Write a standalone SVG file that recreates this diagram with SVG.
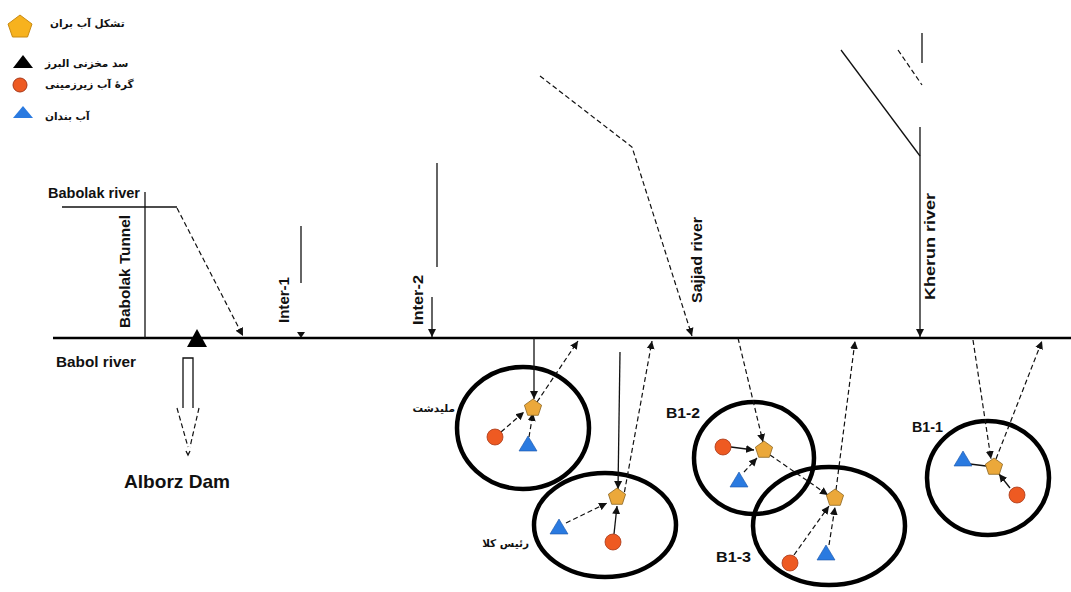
<svg xmlns="http://www.w3.org/2000/svg" xmlns:xlink="http://www.w3.org/1999/xlink" width="1071" height="592" viewBox="0 0 1071 592">
<style>
.lbl{font-family:"Liberation Sans",Arial,sans-serif;font-weight:bold;font-size:14px;fill:#111}
.fa{font-family:"DejaVu Sans","Noto Sans",sans-serif;font-weight:bold;font-size:10.5px;fill:#111}
.ln{fill:none;stroke:#111;stroke-width:1.3}
.dl{fill:none;stroke:#111;stroke-width:1.2;stroke-dasharray:5,3}
.zone{fill:none;stroke:#000;stroke-width:4.5}
.pent{fill:#EBA83A;stroke:#8B6420;stroke-width:0.8}
.gw{fill:#EE5A22;stroke:#A83818;stroke-width:0.8}
.pond{fill:#2A7AE0;stroke:#1B55A8;stroke-width:0.6}
</style>
<defs>
<marker id="ah" markerUnits="userSpaceOnUse" markerWidth="9" markerHeight="9" refX="8" refY="4.5" orient="auto"><path d="M0,0.5 L8,4.5 L0,8.5 z" fill="#111"/></marker>
<path id="pg" d="M0,-9 L8.6,-2.8 L5.3,7.3 L-5.3,7.3 L-8.6,-2.8 z"/>
<path id="tri" d="M0,-8 L9,7 L-9,7 z"/>
</defs>
<rect width="1071" height="592" fill="#fff"/>

<g id="legend">
  <g id="legend-wua"><path d="M20,15 L32,24 L27.5,37 L12.5,37 L8,24 z" fill="#F7B21E" stroke="#C98A12" stroke-width="1"/><text class="fa" x="50" y="27">تشکل آب بران</text></g>
  <g id="legend-dam"><path d="M23,55 L33,68 L13,68 z" fill="#000"/><text class="fa" x="45" y="67">سد مخزنی البرز</text></g>
  <g id="legend-gw"><circle cx="20" cy="85" r="7" fill="#EE5A22" stroke="#A83818" stroke-width="1"/><text class="fa" x="45" y="88">گرۀ آب زیرزمینی</text></g>
  <g id="legend-pond"><path d="M23,106 L33,118 L13,118 z" fill="#2A7AE0"/><text class="fa" x="45" y="120">آب بندان</text></g>
</g>

<g id="zones">
  <g id="zone-malidasht"><ellipse class="zone" cx="523" cy="428" rx="66" ry="61"/><text class="fa" x="455" y="412" text-anchor="end">ملیدشت</text></g>
  <g id="zone-raeeskola"><ellipse class="zone" cx="605" cy="525" rx="71" ry="52"/><text class="fa" x="529" y="547" text-anchor="end">رئیس کلا</text></g>
  <g id="zone-b12"><ellipse class="zone" cx="754" cy="458" rx="60" ry="56"/><text class="lbl" x="666" y="418" textLength="34" lengthAdjust="spacingAndGlyphs">B1-2</text></g>
  <g id="zone-b13"><ellipse class="zone" cx="829" cy="526" rx="76" ry="59"/><text class="lbl" x="716" y="562" textLength="35" lengthAdjust="spacingAndGlyphs">B1-3</text></g>
  <g id="zone-b11"><ellipse class="zone" cx="988" cy="478" rx="61" ry="57"/><text class="lbl" x="912" y="432" textLength="31" lengthAdjust="spacingAndGlyphs">B1-1</text></g>
</g>

<g id="connectors">
  <path id="babol-river" d="M53,338 H1071" fill="none" stroke="#000" stroke-width="2.5"/>
  <path class="ln" d="M62,207 H177"/>
  <path class="ln" d="M145,192 V338"/>
  <path class="dl" d="M177,208 L243,336" marker-end="url(#ah)"/>
  <path class="ln" d="M301,226 V283"/>
  <path d="M297,332 L305,332 L301,338 z" fill="#111"/>
  <path class="ln" d="M437,163 V267"/>
  <path class="ln" d="M432,297 V337" marker-end="url(#ah)"/>
  <path class="dl" d="M540,76 L632,147 L692,336" marker-end="url(#ah)"/>
  <path class="ln" d="M841,50 L920,156" stroke-width="1.6"/>
  <path class="dl" d="M898,50 L922,85"/>
  <path class="ln" d="M922,33 V63"/>
  <path class="ln" d="M920,127 V337" marker-end="url(#ah)"/>
  <path class="ln" d="M183,408 V358 H193 V408"/>
  <path class="dl" d="M177,408 L188,447 M199,408 L190,447" stroke-width="1"/>
  <path class="ln" d="M186,451 L188,455 L190,451" stroke-width="1"/>

  <path class="ln" d="M534,338 V399" marker-end="url(#ah)"/>
  <path class="dl" d="M529,437 L533,413" marker-end="url(#ah)"/>
  <path class="dl" d="M537,402 L578,341" marker-end="url(#ah)"/>
  <path class="dl" d="M501,432 L524,412" marker-end="url(#ah)"/>

  <path class="ln" d="M620,352 L618,489" marker-end="url(#ah)"/>
  <path class="dl" d="M623,500 L652,341" marker-end="url(#ah)"/>
  <path class="dl" d="M566,523 L607,503" marker-end="url(#ah)"/>
  <path class="ln" d="M614,534 L617,506" marker-end="url(#ah)"/>

  <path class="dl" d="M738,338 L763,442" marker-end="url(#ah)"/>
  <path class="ln" d="M731,447 L754,450" marker-end="url(#ah)"/>
  <path class="dl" d="M744,472 L757,458" marker-end="url(#ah)"/>
  <path class="dl" d="M770,455 L828,495" marker-end="url(#ah)"/>

  <path class="dl" d="M794,555 L829,506" marker-end="url(#ah)"/>
  <path class="dl" d="M829,545 L835,507" marker-end="url(#ah)"/>
  <path class="dl" d="M836,490 L855,341" marker-end="url(#ah)"/>

  <path class="dl" d="M973,340 L991,459" marker-end="url(#ah)"/>
  <path class="dl" d="M996,459 L1042,341" marker-end="url(#ah)"/>
  <path class="ln" d="M970,464 L986,466"/>
  <path class="ln" d="M1010,488 L999,474" marker-end="url(#ah)"/>
</g>

<g id="labels">
  <text class="lbl" x="48" y="198" textLength="92" lengthAdjust="spacingAndGlyphs">Babolak river</text>
  <text class="lbl" transform="translate(130,328) rotate(-90)" textLength="113" lengthAdjust="spacingAndGlyphs">Babolak Tunnel</text>
  <text class="lbl" transform="translate(289,323) rotate(-90)" textLength="46" lengthAdjust="spacingAndGlyphs">Inter-1</text>
  <text class="lbl" transform="translate(423,325) rotate(-90)" textLength="50" lengthAdjust="spacingAndGlyphs">Inter-2</text>
  <text class="lbl" transform="translate(702,303) rotate(-90)" textLength="86" lengthAdjust="spacingAndGlyphs">Sajjad river</text>
  <text class="lbl" transform="translate(935,300) rotate(-90)" textLength="107" lengthAdjust="spacingAndGlyphs">Kherun river</text>
  <text class="lbl" x="56" y="367" textLength="80" lengthAdjust="spacingAndGlyphs">Babol river</text>
  <text class="lbl" x="124" y="488" style="font-size:19px" textLength="106" lengthAdjust="spacingAndGlyphs">Alborz Dam</text>
</g>

<g id="nodes">
  <g id="alborz-dam"><path d="M197,329 L207,347 L187,347 z" fill="#000"/></g>
  <g id="malidasht-wua"><use xlink:href="#pg" class="pent" x="533" y="408"/></g>
  <g id="malidasht-gw"><circle class="gw" cx="495" cy="437" r="8"/></g>
  <g id="malidasht-pond"><use xlink:href="#tri" class="pond" x="528" y="444"/></g>
  <g id="raeeskola-wua"><use xlink:href="#pg" class="pent" x="617" y="497"/></g>
  <g id="raeeskola-gw"><circle class="gw" cx="613" cy="542" r="8"/></g>
  <g id="raeeskola-pond"><use xlink:href="#tri" class="pond" x="559" y="527"/></g>
  <g id="b12-wua"><use xlink:href="#pg" class="pent" x="764" y="450"/></g>
  <g id="b12-gw"><circle class="gw" cx="723" cy="447" r="8"/></g>
  <g id="b12-pond"><use xlink:href="#tri" class="pond" x="739" y="480"/></g>
  <g id="b13-wua"><use xlink:href="#pg" class="pent" x="835" y="498"/></g>
  <g id="b13-gw"><circle class="gw" cx="790" cy="563" r="8"/></g>
  <g id="b13-pond"><use xlink:href="#tri" class="pond" x="826" y="553"/></g>
  <g id="b11-wua"><use xlink:href="#pg" class="pent" x="994" y="467"/></g>
  <g id="b11-gw"><circle class="gw" cx="1017" cy="495" r="8"/></g>
  <g id="b11-pond"><use xlink:href="#tri" class="pond" x="963" y="459"/></g>
</g>
</svg>
